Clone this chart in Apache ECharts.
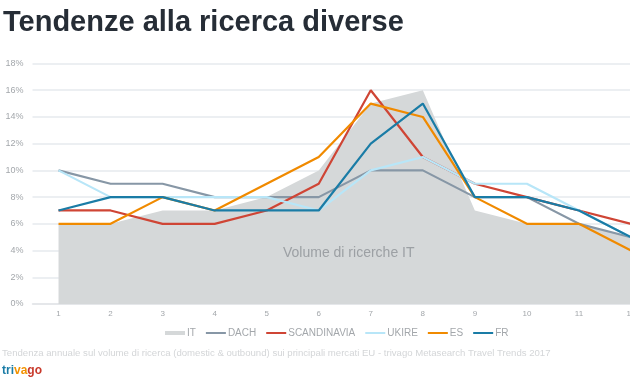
<!DOCTYPE html>
<html><head><meta charset="utf-8">
<script src="https://cdn.jsdelivr.net/npm/echarts@6/dist/echarts.min.js"></script>
<style>html,body{margin:0;padding:0;background:#fff;overflow:hidden;width:630px;height:391px}#c{width:657px;height:391px}</style>
</head><body><div id="c"></div>
<script>
const categories = ['1','2','3','4','5','6','7','8','9','10','11','12'];
const itValues    = [6, 6, 7, 7, 8, 10, 15, 16, 7, 6, 6, 5];
const dachValues  = [10, 9, 9, 8, 8, 8, 10, 10, 8, 8, 6, 5];
const scanValues  = [7, 7, 6, 6, 7, 9, 16, 11, 9, 8, 7, 6];
const ukireValues = [10, 8, 8, 8, 8, 7, 10, 11, 9, 9, 7, 5];
const esValues    = [6, 6, 8, 7, 9, 11, 15, 14, 8, 6, 6, 4];
const frValues    = [7, 8, 8, 7, 7, 7, 12, 15, 8, 8, 7, 5];
const seriesNames = ['IT','DACH','SCANDINAVIA','UKIRE','ES','FR'];
const yTicks = [0, 2, 4, 6, 8, 10, 12, 14, 16, 18];

const colors = ['#d5d8d9','#8797a6','#cf4535','#b8e6f8','#f08a00','#1a7ca6'];
const dataSets = [itValues, dachValues, scanValues, ukireValues, esValues, frValues];

const lineIcon = 'path://M0,0h0.01v0.01h-0.01zM0,1.1h20v1.8h-20zM19.99,3.99h0.01v0.01h-0.01z';

const chart = echarts.init(document.getElementById('c'), null, {renderer:'canvas'});
const series = dataSets.map((d, i) => {
  const s = {
    name: seriesNames[i], type: 'line', data: d, symbol: 'none', smooth: false,
    color: colors[i], animation: false,
    lineStyle: {width: 2.2, color: colors[i]}
  };
  if (i === 0) {
    s.lineStyle = {width: 0, color: colors[0]};
    s.areaStyle = {color: colors[0], opacity: 1};
    s.z = 1;
  }
  return s;
});

chart.setOption({
  animation: false,
  title: [{
    text: 'Tendenze alla ricerca diverse', left: -2, top: 3,
    textStyle: {fontFamily: 'Liberation Sans, Arial', fontWeight: 'bold', fontSize: 29, color: '#262d36'}
  }],
  grid: {left: 32.5, right: 0, top: 63.5, bottom: 87},
  legend: {
    left: 160, top: 323, itemWidth: 20, itemHeight: 4, itemGap: 10,
    textStyle: {fontFamily: 'Liberation Sans, Arial', fontSize: 10, color: '#a3a7ab', padding: [0,0,0,-3]},
    data: seriesNames.map((n, i) => i === 0 ? {name: n, icon: 'rect'} : {name: n, icon: lineIcon})
  },
  xAxis: {
    type: 'category', data: categories, boundaryGap: true,
    axisLine: {show: true, lineStyle: {color: '#e2e5e8', width: 1.5}},
    axisTick: {show: false},
    axisLabel: {color: '#a3a7ab', fontSize: 8, fontFamily: 'Liberation Sans, Arial', margin: 6, interval: 0}
  },
  yAxis: {
    type: 'value', min: yTicks[0], max: yTicks[yTicks.length-1], interval: 2,
    axisLine: {show: false}, axisTick: {show: false},
    splitLine: {lineStyle: {color: '#e6eaee', width: 1.5}},
    axisLabel: {color: '#a3a7ab', fontSize: 9, fontFamily: 'Liberation Sans, Arial', margin: 9, formatter: v => v + '%'}
  },
  graphic: [
    {type: 'text', left: 283, top: 246, z: 10, style: {text: 'Volume di ricerche IT', fill: '#9ca0a4', font: '14px "Liberation Sans", Arial'}},
    {type: 'text', left: 2, top: 348, style: {text: 'Tendenza annuale sul volume di ricerca (domestic & outbound) sui principali mercati EU - trivago Metasearch Travel Trends 2017', fill: '#d4d6d8', font: '9.6px "Liberation Sans", Arial'}},
    {type: 'text', left: 2, top: 365, style: {
      text: '{a|tri}{b|va}{c|go}', font: 'bold 12px "Liberation Sans", Arial',
      rich: {a: {fill: '#1a7ca6', fontWeight: 'bold', fontSize: 12}, b: {fill: '#f29200', fontWeight: 'bold', fontSize: 12}, c: {fill: '#c8392b', fontWeight: 'bold', fontSize: 12}}
    }}
  ],
  series: series
});
</script></body></html>
